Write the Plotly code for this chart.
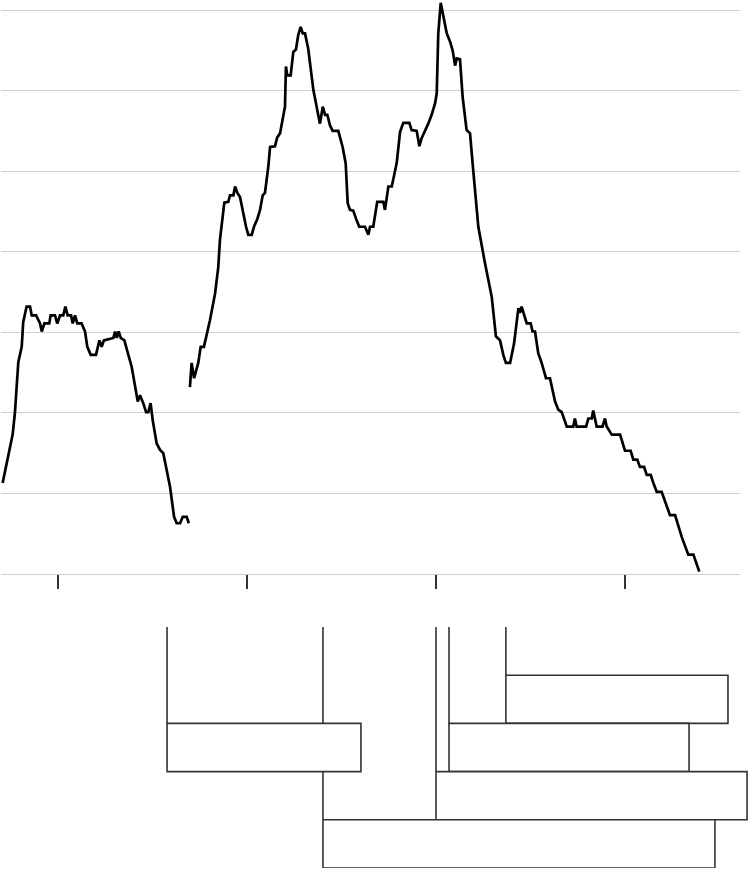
import plotly.graph_objects as go

# counts over time (two runs, gap in between)
years_a = [1987.07, 1987.60, 1987.72, 1987.90, 1988.08, 1988.16, 1988.34, 1988.52, 1988.61, 1988.84,
           1989.05, 1989.14, 1989.28, 1989.54, 1989.61, 1989.84, 1989.96, 1990.11, 1990.28, 1990.39,
           1990.51, 1990.69, 1990.78, 1990.90, 1991.02, 1991.25, 1991.43, 1991.55, 1991.73, 1992.01,
           1992.19, 1992.31, 1992.43, 1992.93, 1993.02, 1993.11, 1993.21, 1993.32, 1993.51, 1993.63,
           1993.90, 1994.22, 1994.34, 1994.51, 1994.66, 1994.78, 1994.90, 1995.01, 1995.22, 1995.40,
           1995.57, 1995.93, 1996.14, 1996.28, 1996.46, 1996.60, 1996.81, 1996.92]
values_a = [11.3, 17.3, 20.0, 26.3, 28.2, 31.3, 33.2, 33.2, 32.1, 32.1,
            31.1, 30.1, 31.1, 31.1, 32.1, 32.1, 31.1, 32.1, 32.1, 33.2,
            32.1, 32.1, 31.1, 32.1, 31.1, 31.1, 30.1, 28.2, 27.2, 27.2,
            29.0, 28.2, 29.0, 29.3, 30.1, 29.3, 30.1, 29.3, 29.0, 28.0,
            25.7, 21.4, 22.2, 21.2, 20.1, 20.1, 21.2, 19.1, 16.2, 15.4,
            15.0, 10.8, 7.1, 6.3, 6.3, 7.1, 7.1, 6.3]

years_b = [1996.98, 1997.07, 1997.20, 1997.42, 1997.55, 1997.72, 1998.04, 1998.31, 1998.48, 1998.57,
           1998.80, 1999.01, 1999.10, 1999.28, 1999.37, 1999.49, 1999.63, 1999.80, 1999.95, 2000.07,
           2000.25, 2000.37, 2000.55, 2000.69, 2000.83, 2000.95, 2001.13, 2001.22, 2001.48, 2001.60,
           2001.75, 2002.01, 2002.06, 2002.13, 2002.31, 2002.45, 2002.59, 2002.71, 2002.84, 2002.95,
           2003.07, 2003.24, 2003.51, 2003.86, 2004.01, 2004.13, 2004.25, 2004.39, 2004.53, 2004.83,
           2005.06, 2005.22, 2005.33, 2005.45, 2005.62, 2005.80, 2005.94, 2006.24, 2006.42, 2006.51,
           2006.68, 2006.89, 2007.21, 2007.30, 2007.48, 2007.66, 2007.92, 2008.10, 2008.27, 2008.59,
           2008.71, 2008.98, 2009.12, 2009.24, 2009.42, 2009.59, 2009.77, 2009.95, 2010.04, 2010.12,
           2010.25, 2010.39, 2010.57, 2010.74, 2010.88, 2011.01, 2011.10, 2011.27, 2011.41, 2011.62,
           2011.80, 2011.97, 2012.12, 2012.24, 2012.59, 2012.95, 2013.17, 2013.39, 2013.56, 2013.70,
           2013.92, 2014.13, 2014.36, 2014.44, 2014.53, 2014.66, 2014.80, 2015.01, 2015.11, 2015.24,
           2015.41, 2015.59, 2015.82, 2016.03, 2016.30, 2016.47, 2016.65, 2016.92, 2017.26, 2017.35,
           2017.44, 2017.94, 2018.06, 2018.24, 2018.32, 2018.50, 2018.81, 2018.94, 2019.03, 2019.30,
           2019.74, 2020.00, 2020.30, 2020.44, 2020.65, 2020.79, 2021.01, 2021.15, 2021.36, 2021.50,
           2021.68, 2021.94, 2022.38, 2022.65, 2023.00, 2023.35, 2023.62, 2023.93]
values_b = [23.2, 26.2, 24.3, 26.2, 28.2, 28.2, 31.5, 34.8, 38.1, 41.5,
            46.1, 46.2, 47.0, 47.0, 48.1, 47.3, 46.8, 44.8, 43.1, 42.1,
            42.1, 43.1, 44.1, 45.2, 47.0, 47.3, 50.6, 53.0, 53.1, 54.2,
            54.7, 58.0, 63.0, 61.9, 61.9, 64.8, 65.1, 66.9, 67.9, 67.1,
            67.1, 65.2, 60.1, 55.9, 58.0, 57.0, 57.0, 55.7, 55.0, 55.0,
            53.0, 51.0, 46.0, 45.2, 45.1, 43.9, 43.1, 43.1, 42.1, 43.1,
            43.1, 46.2, 46.2, 45.2, 48.1, 48.1, 51.0, 54.9, 56.0, 56.0,
            55.1, 55.0, 53.1, 54.1, 55.0, 55.9, 57.0, 58.4, 59.7, 67.1,
            70.9, 69.0, 67.1, 66.1, 65.0, 63.1, 64.0, 63.9, 59.2, 55.1,
            54.7, 50.1, 46.4, 43.1, 38.6, 34.4, 29.5, 29.0, 27.2, 26.2,
            26.2, 28.6, 33.0, 32.4, 33.2, 32.1, 31.1, 31.1, 30.1, 30.1,
            27.4, 26.2, 24.3, 24.3, 21.4, 20.4, 20.1, 18.3, 18.3, 19.3,
            18.3, 18.3, 19.3, 19.3, 20.3, 18.3, 18.3, 19.3, 18.3, 17.3,
            17.3, 15.3, 15.3, 14.2, 14.2, 13.3, 13.3, 12.3, 12.3, 11.3,
            10.2, 10.2, 7.3, 7.3, 4.6, 2.4, 2.4, 0.3]

# periods shown below (start, end, row from top)
period_start = [1995.77, 2013.70, 2010.69, 2010.00, 2004.02]
period_end = [2006.03, 2025.45, 2023.39, 2026.46, 2024.76]
period_row = [2, 1, 2, 3, 4]

tick_years = [1990, 2000, 2010, 2020]
grid_vals = [0, 10, 20, 30, 40, 50, 60, 70]

W, H = 748, 869

fig = go.Figure()
fig.add_trace(go.Scatter(
    x=years_a + [None] + years_b,
    y=values_a + [None] + values_b,
    mode="lines", line=dict(color="black", width=2.7),
    connectgaps=False, showlegend=False, hoverinfo="skip",
    xaxis="x", yaxis="y"))

shapes = []
# vertical markers from top of lower panel down to each period
for s, r in zip(period_start, period_row):
    shapes.append(dict(type="line", xref="x2", yref="y2", x0=s, x1=s, y0=0, y1=r,
                       line=dict(color="#333", width=1.6)))
for s, e, r in zip(period_start, period_end, period_row):
    shapes.append(dict(type="rect", xref="x2", yref="y2", x0=s, x1=e, y0=r, y1=r + 1,
                       fillcolor="white", line=dict(color="#333", width=1.6)))

fig.update_layout(
    width=W, height=H,
    margin=dict(l=0, r=0, t=0, b=0),
    paper_bgcolor="white", plot_bgcolor="white",
    showlegend=False,
    shapes=shapes,
    xaxis=dict(domain=[1 / W, 740 / W], range=[1986.984, 2026.085],
               showgrid=False, zeroline=False, showline=False,
               tickvals=tick_years, showticklabels=False,
               ticks="outside", ticklen=14, tickwidth=1.6, tickcolor="#333"),
    yaxis=dict(domain=[(H - 574) / H, (H - 2) / H], range=[0, 71],
               tickvals=grid_vals, showticklabels=False,
               showgrid=True, gridcolor="#d0d0d0", gridwidth=1.3,
               zeroline=True, zerolinecolor="#d0d0d0", zerolinewidth=1.3,
               showline=False, ticks=""),
    xaxis2=dict(domain=[1 / W, 1.0], range=[1986.984, 2026.51],
                visible=False, anchor="y2"),
    yaxis2=dict(domain=[1 / H, (H - 627) / H], range=[5, 0],
                visible=False, anchor="x2"),
)

fig.write_html("out.html", config={"displayModeBar": False},
               post_script="document.body.style.margin='0';")
